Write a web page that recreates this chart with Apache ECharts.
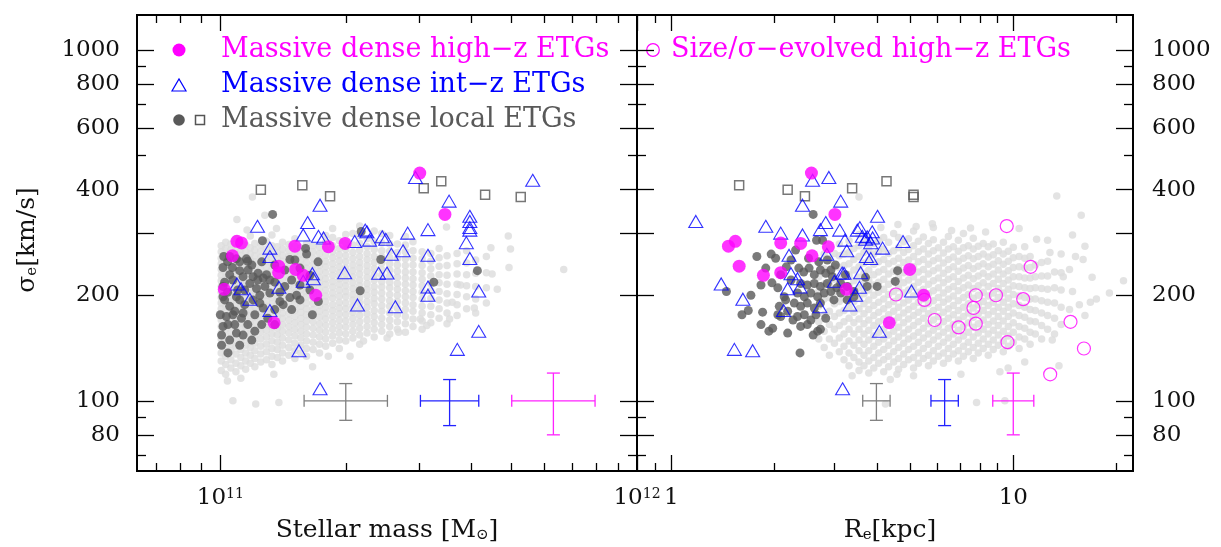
<!DOCTYPE html>
<html><head><meta charset="utf-8">
<script src="https://cdn.jsdelivr.net/npm/echarts@6/dist/echarts.min.js"></script>
<style>html,body{margin:0;padding:0;background:#fff}#c{width:1221px;height:547px}</style>
</head><body><div id="c"></div>
<script>
// ---------------- axis ranges and ticks ----------------
const massRange = [6.3096e10, 1.0e12];
const reRange = [0.79433, 22.387];
const sigmaRange = [63.096, 1258.93];
const massTicksMinor = [7e10, 8e10, 9e10, 2e11, 3e11, 4e11, 5e11, 6e11, 7e11, 8e11, 9e11];
const massTicksMajor = [1e11, 1e12];
const massLabels = [1e11, 1e12];
const reTicksMinor = [0.9, 2, 3, 4, 5, 6, 7, 8, 9, 20];
const reTicksMajor = [1, 10];
const reLabels = [1, 10];
const sigmaTicksMinor = [70, 90, 500, 700, 900];
const sigmaTicksMajor = [80, 100, 200, 300, 400, 600, 800, 1000];
const sigmaLabels = [80, 100, 200, 400, 600, 800, 1000];

// ---------------- Massive dense high-z ETGs ----------------
const highzMass = [3.01e11,3.46e11,1.096e11,1.124e11,1.993e11,1.51e11,1.817e11,1.069e11,1.38e11,1.516e11,1.38e11,1.581e11,1.022e11,1.694e11,1.346e11];
const highzRe = [2.57,3.01,1.54,2.09,2.39,1.47,2.88,2.58,1.58,4.98,2.09,1.86,3.25,5.47,4.34];
const highzSigma = [446,340,285,282,281,276,275,259,242,237,232,228,208,200,167];

// ---------------- Massive dense int-z ETGs ----------------
const intzMass = [2.94e11,5.62e11,3.54e11,1.735e11,
  3.97e11,3.97e11,1.62e11,1.228e11,3.97e11,3.15e11,2.227e11,3.97e11,2.248e11,2.816e11,1.581e11,1.72e11,2.447e11,1.769e11,2.495e11,2.281e11,2.101e11,3.894e11,
  1.315e11,2.745e11,2.573e11,3.15e11,1.315e11,3.97e11,
  1.988e11,2.512e11,2.398e11,1.663e11,1.672e11,1.581e11,
  1.096e11,3.15e11,1.382e11,1.121e11,4.17e11,3.15e11,1.177e11,2.134e11,2.63e11,1.315e11,
  4.17e11,3.705e11,1.544e11,1.735e11];
const intzRe = [2.89,2.59,3.13,2.42,
  4.01,1.18,2.83,1.89,3.56,2.73,3.11,3.50,3.87,2.09,2.42,3.62,3.74,3.88,3.70,3.22,4.76,3.83,
  4.15,3.26,2.85,2.21,3.72,3.83,
  3.58,3.16,3.20,2.24,2.34,3.00,
  1.40,2.38,3.55,2.19,5.04,3.46,1.62,3.33,2.72,2.13,
  4.06,1.53,1.73,3.17];
const intzSigma = [433.5,425.3,371.0,361.2,
  335.9,324.6,322.4,314.4,311.8,307.7,306.7,306.7,303.3,300.7,297.1,294.4,293.5,291.4,288.8,287.2,284.6,282.5,
  272.5,267.7,261.6,259.9,257.8,254.5,
  231.9,231.4,231.0,230.4,223.0,219.2,
  215.4,211.1,210.7,208.8,205.6,200.1,194.9,187.7,185.4,180.9,
  157.8,140.2,139.0,108.2];

// ---------------- Massive dense local ETGs (open squares) ----------------
const squareMass = [1.573e11,3.39e11,3.077e11,1.251e11,4.32e11,1.834e11,5.26e11];
const squareRe = [1.58,4.26,3.38,2.19,5.11,2.46,5.11];
const squareSigma = [412,423,404,400,387,383,381];

// ---------------- Massive dense local ETGs (filled dark) ----------------
const localMassSigma = [[1.335e11,340],[1.262e11,286],[1.602e11,272],[1.611e11,262],[1.469e11,253],[1.510e11,252],[1.019e11,258],[1.053e11,258],[1.093e11,254],[1.155e11,254],[1.015e11,240],[1.069e11,240],[1.113e11,235],[1.166e11,236],[1.232e11,231],[1.291e11,229],[1.134e11,226],[1.198e11,226],[1.267e11,224],[1.053e11,229],[1.072e11,221],[1.015e11,212],[1.015e11,198],[1.177e11,216],[1.221e11,209],[1.279e11,212],[1.315e11,203],[1.428e11,212],[1.483e11,221],[1.524e11,200],[1.553e11,194],[1.390e11,192],[1.415e11,188],[1.483e11,182],[1.244e11,190],[1.198e11,194],[1.267e11,184],[1.093e11,198],[1.113e11,194],[1.053e11,186],[1.083e11,180],[1.134e11,178],[1.000e11,176],[1.034e11,174],[1.072e11,176],[1.124e11,172],[1.015e11,163],[1.043e11,165],[1.093e11,156],[1.134e11,154],[1.210e11,158],[1.043e11,137],[1.663e11,176],[2.166e11,206],[2.178e11,304],[2.427e11,253],[4.14e11,235],[3.253e11,218],[1.719e11,192],[1.024e11,194],[1.144e11,207],[1.351e11,218],[1.244e11,200],[1.163e11,250],
  [1.041e11,249],[1.113e11,249],[1.190e11,244],[1.257e11,249],[1.351e11,244],[1.428e11,236],[1.553e11,239],[1.041e11,204],[1.101e11,207],[1.230e11,221],[1.315e11,221],[1.390e11,204],[1.469e11,197],[1.351e11,182],[1.300e11,172],[1.210e11,176],[1.164e11,165],[1.257e11,165],[1.351e11,165],[1.053e11,149],[1.113e11,144],[1.190e11,149],[1.007e11,154],[1.007e11,144],[1.553e11,214],[1.641e11,207],[1.641e11,228],[1.716e11,249],[1.144e11,188],[1.024e11,218],[1.083e11,165]];
const localReSigma = [[2.60,340],[2.66,287],[2.77,287],[1.78,258],[1.96,262],[2.02,255],[2.17,241],[1.45,205],[1.61,176],[1.68,181],[1.85,179],[1.97,217],[2.05,210],[1.83,165],[1.93,158],[1.98,161],[2.19,156],[2.38,137],[2.60,154],[2.68,158],[2.73,160],[2.05,176],[2.09,174],[2.44,233],[2.53,239],[2.62,229],[2.73,236],[2.83,231],[2.93,236],[2.39,216],[2.50,214],[2.62,216],[2.73,212],[2.86,216],[2.34,203],[2.45,198],[2.56,203],[2.68,198],[2.80,203],[2.93,205],[2.29,190],[2.39,186],[2.50,190],[2.62,184],[2.73,190],[2.34,174],[2.45,176],[2.56,170],[2.39,163],[2.50,165],[2.19,180],[2.14,198],[2.07,186],[3.13,203],[3.27,194],[3.42,198],[2.86,252],[2.96,226],[3.13,216],[3.27,212],[3.42,205],[3.74,212],[4.00,212],[4.59,235],[4.52,219],[3.70,225],[2.24,252],[2.31,269],
  [2.24,221],[2.16,194],[2.27,170],[2.65,176],[2.83,172],[2.99,194],[3.05,210],[2.70,249],[2.52,255],[2.36,239],[2.09,229],[1.89,239],[1.83,214],[1.71,200],[3.02,244],[3.23,229]];

// ---------------- Size/sigma-evolved high-z ETGs ----------------
const evolvedRe = [9.57,11.24,4.54,5.50,7.77,8.90,10.69,7.65,5.89,6.92,7.77,14.70,9.62,16.09,12.82];
const evolvedSigma = [315,241,201,194,200,200,195,184,170,162,166,168,147,141,119];

// ---------------- background (all local ETGs), by columns ----------------
const bgMassCols = [1.005e11,1.03e11,1.06e11,1.09e11,1.12e11,1.15e11,1.18e11,1.21e11,1.25e11,1.29e11,1.33e11,1.37e11,1.41e11,1.46e11,1.51e11,1.56e11,1.61e11,1.67e11,1.73e11,1.79e11,1.86e11,1.93e11,2.00e11,2.08e11,2.16e11,2.25e11,2.34e11,2.44e11,2.55e11,2.66e11,2.78e11,2.90e11,3.05e11,3.20e11,3.35e11,3.50e11,3.70e11,3.90e11,4.10e11,4.35e11];
const bgMassSigma = [
 [122,130,137,144,150,156,163,170,176,183,190,197,204,212,220,228,237,246,255,266,277],
 [119,127,134,141,147,153,160,166,173,180,187,194,201,208,216,224,232,241,250,260,272,283],
 [124,131,139,145,151,158,164,171,178,185,192,199,206,214,222,230,239,248,258,269,280],
 [121,128,136,143,149,156,162,169,175,182,189,196,203,210,218,226,234,243,252,262,273,290],
 [126,133,140,147,153,160,167,173,180,187,194,201,208,216,224,232,241,250,260,270],
 [123,130,137,144,151,157,164,170,177,184,191,198,205,213,221,229,237,246,256,266,278],
 [128,135,142,148,155,161,168,175,182,189,196,203,210,218,226,234,243,252,262,273,295],
 [125,132,139,146,153,160,166,173,179,186,193,200,207,215,223,231,240,249,259,269,281],
 [129,136,143,150,157,163,170,177,184,191,198,205,213,221,229,238,247,257,267,278],
 [131,138,145,152,159,165,172,179,186,193,200,208,216,224,232,241,250,260,271,285],
 [127,134,141,148,155,162,168,175,182,189,197,204,212,220,228,237,246,256,266,277,297],
 [133,140,147,154,161,168,174,181,188,195,202,210,218,226,235,244,254,264,275],
 [130,137,144,151,158,165,172,178,185,192,200,207,215,223,232,241,250,260,271,283],
 [135,142,149,156,163,170,177,184,191,198,205,213,221,229,238,248,258,268,279],
 [132,139,146,153,160,167,174,181,188,195,203,210,218,227,236,245,255,265,276,290],
 [137,144,151,158,165,172,179,186,193,200,208,216,224,233,242,252,262,273],
 [134,141,148,155,162,169,176,183,190,198,205,213,221,230,239,248,258,269,281],
 [140,147,154,161,168,175,182,189,196,204,211,219,227,236,245,255,266,277],
 [137,145,152,159,166,173,180,187,194,201,209,217,225,234,243,253,263,274],
 [143,150,157,164,171,178,185,192,199,207,215,223,232,241,250,260,271,283,296],
 [146,153,160,167,174,181,188,196,203,211,219,228,237,246,256,266,277,292,310],
 [141,149,156,163,170,177,184,191,199,207,215,223,232,241,251,261,272,286],
 [148,155,162,169,176,183,190,198,205,213,221,230,239,249,259,270,282,298],
 [151,158,165,172,179,186,194,201,209,217,226,235,244,254,265,278,300],
 [145,154,161,168,175,182,190,197,205,213,221,230,239,248,258,269,281,296,315],
 [156,163,170,177,185,192,200,208,216,225,234,243,253,263,275,290],
 [152,160,167,174,181,189,196,204,212,221,229,238,248,258,270,284,305],
 [158,165,172,180,187,195,203,211,219,228,237,247,257,268,282,300],
 [155,163,170,178,186,193,201,210,218,227,236,246,256,267,280,296],
 [160,168,176,184,192,200,208,216,225,234,244,254,265,280],
 [157,166,174,182,190,198,206,215,224,233,243,254,266,278,294],
 [163,171,180,188,197,205,214,223,233,244,255,268,284],
 [160,169,178,186,195,204,213,222,232,243,254,266],
 [167,176,186,196,206,216,227,238,250,263],
 [172,183,194,205,217,229,242,256,272],
 [166,178,190,202,215,228,243,259],
 [175,188,201,215,230,246,263],
 [183,198,213,229,247,268],
 [178,195,212,231,252],
 [190,210,232,258]
];
const bgMassExtra = [[1.194e11,381],[1.096e11,329],[1.279e11,338],[1.364e11,310],[1.159e11,307],[4.91e11,295],[4.46e11,273],[4.97e11,271],[3.49e11,313],[1.072e11,100],[1.216e11,98],[1.382e11,99],[1.344e11,119],[1.665e11,125],[1.816e11,134],[2.048e11,134],[2.206e11,148],[2.513e11,151],[2.678e11,157],[3.02e11,171],[3.55e11,171],[4.07e11,184],[4.93e11,240],[6.67e11,237],[4.49e11,230],[4.62e11,208],[3.77e11,214],[3.60e11,191],[3.13e11,164],[1.04e11,114],[1.12e11,116]];

const bgReCols = [2.70,2.80,2.90,3.00,3.10,3.20,3.31,3.42,3.54,3.66,3.78,3.91,4.04,4.18,4.32,4.47,4.62,4.78,4.94,5.11,5.28,5.46,5.65,5.84,6.04,6.25,6.46,6.68,6.91,7.15,7.39,7.64,7.90,8.17,8.45,8.74,9.04,9.35,9.67,10.0,10.4,10.8,11.2,11.6,12.1,12.6,13.2,13.8];
const bgReSigma = [
 [150,168,186,205,226,250],
 [142,158,176,195,215,238,262],
 [135,150,165,180,197,214,233,254],
 [146,160,174,189,205,222,241,263],
 [138,151,164,178,192,207,223,240,259,280],
 [131,143,155,168,181,195,210,226,243,262],
 [126,137,148,160,172,185,199,213,229,246,265,286],
 [133,144,155,167,179,192,205,220,236,253,272],
 [122,129,139,149,160,171,183,196,210,225,241,258,277,298],
 [126,135,145,155,166,177,189,202,216,231,247,265,284],
 [120,130,139,149,159,170,182,194,207,221,236,252,270,290],
 [124,133,143,153,164,175,187,200,214,229,245,262,281],
 [128,137,147,157,168,179,191,204,218,233,249,267,287],
 [121,131,140,150,160,171,183,195,208,222,237,253,271,292],
 [125,134,144,154,165,176,188,201,215,230,246,263,283],
 [129,138,148,158,169,180,192,205,219,234,250,268,300],
 [123,132,142,152,162,173,185,197,210,224,239,255,273,292],
 [127,136,146,156,167,178,190,203,217,232,248,265,284],
 [131,140,150,160,171,182,194,207,221,236,252,270,290],
 [124,133,143,153,164,175,186,199,212,226,241,258,277,305],
 [128,137,147,157,168,179,191,204,218,233,249,266,285],
 [132,141,151,161,172,183,195,208,222,237,253,271,293],
 [126,135,145,155,166,177,189,202,215,230,245,262,281],
 [130,139,149,159,170,181,193,206,220,235,251,268,288,312],
 [134,143,153,163,174,185,197,210,224,239,255,273],
 [128,137,147,157,168,179,191,203,217,231,247,264,283],
 [132,141,151,161,172,183,195,208,222,237,253,271,294],
 [136,145,155,165,176,187,199,212,226,241,257,275],
 [130,139,149,159,170,181,193,206,219,234,250,267,287],
 [134,143,153,163,174,185,197,210,224,239,255,273,300],
 [138,147,157,167,178,189,201,214,228,243,259,277],
 [132,142,152,162,173,184,196,209,223,238,254,271,291],
 [137,146,156,166,177,188,200,213,227,242,258,276],
 [141,150,160,170,181,192,204,217,231,246,262,281],
 [135,145,155,165,176,187,199,212,226,241,257,275],
 [140,149,159,169,180,191,203,216,230,245,261,280],
 [144,154,164,174,185,197,209,222,236,251,268],
 [138,148,158,169,180,191,203,216,230,245,262,283],
 [143,153,163,174,185,196,208,221,235,250,267],
 [147,157,167,178,189,201,213,226,240,256,274],
 [141,152,163,175,187,199,212,226,241,258],
 [150,161,173,185,197,210,224,239,255,275],
 [145,157,169,182,195,209,224,240,258],
 [155,168,181,195,210,226,244],
 [150,164,178,193,209,227,248],
 [160,175,191,208,227,250],
 [155,172,190,210,233],
 [165,185,207,232,262]
];
const bgReExtra = [[3.54,381],[13.4,384],[15.8,338],[16.2,276],[16.0,253],[21.0,220],[19.1,203],[17.0,225],[16.8,191],[15.6,188],[16.2,175],[14.6,182],[13.0,149],[13.6,126],[10.8,129],[9.14,121],[9.45,100],[7.81,99],[7.03,119],[5.11,118],[4.57,119],[4.23,98],[4.37,115],[3.38,118],[14.9,297],[12.6,287],[11.7,289],[10.4,310],[9.66,124],[14.6,237],[14.0,226],[4.1,312],[4.6,318],[5.2,314],[5.8,320],[6.6,306],[7.5,311],[8.3,303],[14.9,205],[15.2,258],[12.8,265],[17.5,195]];

// ---------------- typical error bars ----------------
const errMass = [2.0e11, 3.55e11, 6.3e11];
const errMassDex = [0.10, 0.07, 0.10];
const errRe = [3.98, 6.3, 10.0];
const errReDex = [0.04, 0.04, 0.06];
const errSigma = [100, 100, 100];
const errSigmaAbs = [12, 15, 20];
const errColors = ['#7f7f7f', '#2222ff', '#ff22ff'];

// ---------------- build ----------------
const FONT = 'DejaVu Serif';
const L = Math.log10;
const zip = (a, b) => a.map((v, i) => [v, b[i]]);
function cols(xs, ys, extra) {
  const out = [];
  xs.forEach((x, i) => ys[i].forEach(s => out.push([x, s])));
  return out.concat(extra);
}
function errData(xs, dex) {
  return xs.map((x, i) => [x, errSigma[i], x / Math.pow(10, dex[i]), x * Math.pow(10, dex[i]), errSigma[i] - errSigmaAbs[i], errSigma[i] + errSigmaAbs[i]]);
}
function tickAxis(grid, pos, range, ticks, len, labels, fmt, margin, rich) {
  return {
    type: 'value', gridIndex: grid, position: pos, min: L(range[0]), max: L(range[1]),
    axisLine: {show: true, onZero: false, lineStyle: {color: '#000', width: 1.8}},
    axisTick: {show: true, inside: true, length: len, customValues: ticks.map(L), lineStyle: {color: '#000', width: 1.3}},
    axisLabel: labels ? {show: true, customValues: labels.map(L), formatter: fmt, margin: margin, color: '#111', fontSize: 23, fontFamily: FONT, rich: rich} : {show: false},
    splitLine: {show: false}
  };
}
const powFmt = v => '10{sup|' + Math.round(v) + '}';
const linFmt = v => String(Math.round(Math.pow(10, v)));
const supRich = {sup: {fontSize: 14, fontFamily: FONT, color: '#111', verticalAlign: 'top', lineHeight: 12}};

const xAxes = [
  {type: 'log', logBase: 10, gridIndex: 0, min: massRange[0], max: massRange[1], show: false},
  {type: 'log', logBase: 10, gridIndex: 1, min: reRange[0], max: reRange[1], show: false},
  tickAxis(0, 'bottom', massRange, massTicksMinor, 8),
  tickAxis(0, 'bottom', massRange, massTicksMajor, 16, massLabels, powFmt, 16, supRich),
  tickAxis(0, 'top', massRange, massTicksMinor, 8),
  tickAxis(0, 'top', massRange, massTicksMajor, 16),
  tickAxis(1, 'bottom', reRange, reTicksMinor, 8),
  tickAxis(1, 'bottom', reRange, reTicksMajor, 16, reLabels, linFmt, 16),
  tickAxis(1, 'top', reRange, reTicksMinor, 8),
  tickAxis(1, 'top', reRange, reTicksMajor, 16)
];
const yAxes = [
  {type: 'log', logBase: 10, gridIndex: 0, min: sigmaRange[0], max: sigmaRange[1], show: false},
  {type: 'log', logBase: 10, gridIndex: 1, min: sigmaRange[0], max: sigmaRange[1], show: false},
  tickAxis(0, 'left', sigmaRange, sigmaTicksMinor, 9),
  tickAxis(0, 'left', sigmaRange, sigmaTicksMajor, 17, sigmaLabels, linFmt, 17),
  tickAxis(0, 'right', sigmaRange, sigmaTicksMinor, 9),
  tickAxis(0, 'right', sigmaRange, sigmaTicksMajor, 17),
  tickAxis(1, 'left', sigmaRange, sigmaTicksMinor, 9),
  tickAxis(1, 'left', sigmaRange, sigmaTicksMajor, 17),
  tickAxis(1, 'right', sigmaRange, sigmaTicksMinor, 9),
  tickAxis(1, 'right', sigmaRange, sigmaTicksMajor, 17, sigmaLabels, linFmt, 19)
];

function scatter(g, data, sym, size, item, z) {
  return {type: 'scatter', xAxisIndex: g, yAxisIndex: g, data: data, symbol: sym, symbolSize: size,
    itemStyle: item, z: z, silent: true, animation: false, emphasis: {disabled: true}};
}
function errSeries(g, data) {
  return {
    type: 'custom', xAxisIndex: g, yAxisIndex: g, data: data, z: 10, silent: true, animation: false,
    renderItem: (params, api) => {
      const col = errColors[params.dataIndex];
      const xl = api.coord([api.value(2), api.value(1)]);
      const xh = api.coord([api.value(3), api.value(1)]);
      const yl = api.coord([api.value(0), api.value(4)]);
      const yh = api.coord([api.value(0), api.value(5)]);
      const st = {stroke: col, lineWidth: 1.3};
      const ln = (x1, y1, x2, y2) => ({type: 'line', shape: {x1, y1, x2, y2}, style: st});
      return {type: 'group', children: [
        ln(xl[0], xl[1], xh[0], xh[1]),
        ln(yl[0], yl[1], yh[0], yh[1]),
        ln(xl[0], xl[1] - 6, xl[0], xl[1] + 6),
        ln(xh[0], xh[1] - 6, xh[0], xh[1] + 6),
        ln(yl[0] - 6.5, yl[1], yl[0] + 6.5, yl[1]),
        ln(yh[0] - 6.5, yh[1], yh[0] + 6.5, yh[1])
      ]};
    }
  };
}

const bgStyle = {color: '#dcdcdc'};
const darkStyle = {color: '#595959'};
const sqStyle = {color: 'rgba(0,0,0,0)', borderColor: '#555555', borderWidth: 1.5};
const triStyle = {color: 'rgba(0,0,0,0)', borderColor: '#0000ff', borderWidth: 1.1};
const openStyle = {color: 'rgba(0,0,0,0)', borderColor: '#ff00ff', borderWidth: 1.2};
const hzStyle = {color: '#ff00ff'};

const series = [
  scatter(0, cols(bgMassCols, bgMassSigma, bgMassExtra), 'circle', 7.5, bgStyle, 1),
  scatter(1, cols(bgReCols, bgReSigma, bgReExtra), 'circle', 7.5, bgStyle, 1),
  scatter(0, localMassSigma, 'circle', 9, darkStyle, 2),
  scatter(1, localReSigma, 'circle', 9, darkStyle, 2),
  scatter(0, zip(squareMass, squareSigma), 'rect', 9, sqStyle, 3),
  scatter(1, zip(squareRe, squareSigma), 'rect', 9, sqStyle, 3),
  scatter(0, zip(intzMass, intzSigma), 'triangle', [14, 12], triStyle, 4),
  scatter(1, zip(intzRe, intzSigma), 'triangle', [14, 12], triStyle, 4),
  scatter(1, zip(evolvedRe, evolvedSigma), 'circle', 13, openStyle, 5),
  scatter(0, zip(highzMass, highzSigma), 'circle', 13, hzStyle, 6),
  scatter(1, zip(highzRe, highzSigma), 'circle', 13, hzStyle, 6),
  errSeries(0, errData(errMass, errMassDex)),
  errSeries(1, errData(errRe, errReDex))
];

const legFont = '27px "DejaVu Serif"';
const titleFont = '25px "DejaVu Serif"';
const subRich = {sub: {fontSize: 15, fontFamily: FONT, fill: '#111', verticalAlign: 'bottom', lineHeight: 24}};
const graphic = [
  {type: 'circle', shape: {cx: 179, cy: 50, r: 6.5}, style: {fill: '#ff00ff'}},
  {type: 'text', x: 221, y: 50, style: {text: 'Massive dense high\u2212z ETGs', font: legFont, fill: '#ff00ff', verticalAlign: 'middle'}},
  {type: 'polygon', shape: {points: [[172, 91], [186, 91], [179, 79]]}, style: {fill: 'none', stroke: '#0000ff', lineWidth: 1.2}},
  {type: 'text', x: 221, y: 85, style: {text: 'Massive dense int\u2212z ETGs', font: legFont, fill: '#0000ff', verticalAlign: 'middle'}},
  {type: 'circle', shape: {cx: 179, cy: 120, r: 5.8}, style: {fill: '#595959'}},
  {type: 'rect', shape: {x: 195.5, y: 115.5, width: 9, height: 9}, style: {fill: 'none', stroke: '#555555', lineWidth: 1.5}},
  {type: 'text', x: 221, y: 120, style: {text: 'Massive dense local ETGs', font: legFont, fill: '#595959', verticalAlign: 'middle'}},
  {type: 'circle', shape: {cx: 653, cy: 50, r: 6.3}, style: {fill: 'none', stroke: '#ff00ff', lineWidth: 1.2}},
  {type: 'text', x: 671, y: 50, style: {text: 'Size/\u03c3\u2212evolved high\u2212z ETGs', font: legFont, fill: '#ff00ff', verticalAlign: 'middle'}},
  {type: 'text', x: 27, y: 240, rotation: Math.PI / 2, style: {text: '\u03c3{sub|e}[km/s]', rich: subRich, font: titleFont, fill: '#111', align: 'center', verticalAlign: 'middle'}},
  {type: 'text', x: 387, y: 530, style: {text: 'Stellar mass [M{sub|\u2299}]', rich: subRich, font: titleFont, fill: '#111', align: 'center', verticalAlign: 'middle'}},
  {type: 'text', x: 890, y: 530, style: {text: 'R{sub|e}[kpc]', rich: subRich, font: titleFont, fill: '#111', align: 'center', verticalAlign: 'middle'}}
];

const chart = echarts.init(document.getElementById('c'), null, {renderer: 'canvas'});
chart.setOption({
  animation: false,
  backgroundColor: '#ffffff',
  textStyle: {fontFamily: FONT},
  grid: [{left: 137, top: 15, width: 500, height: 456}, {left: 637, top: 15, width: 496, height: 456}],
  xAxis: xAxes,
  yAxis: yAxes,
  series: series,
  graphic: graphic
});
</script></body></html>
